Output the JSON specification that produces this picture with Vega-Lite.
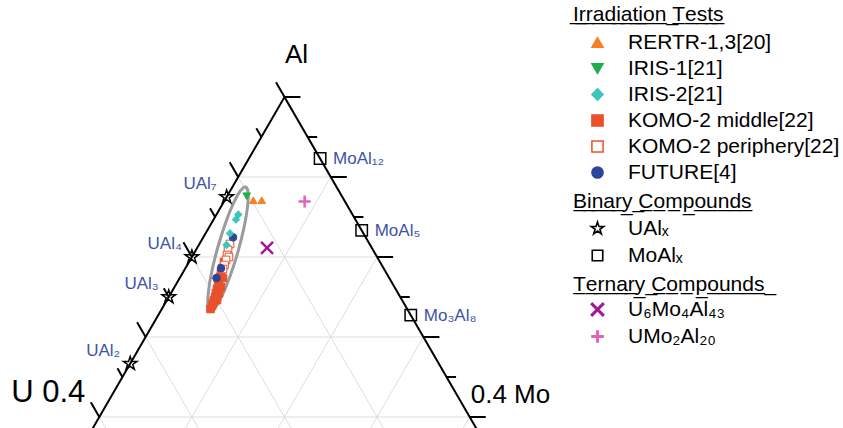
{
  "$schema": "https://vega.github.io/schema/vega-lite/v6.json",
  "width": 555,
  "height": 424,
  "padding": {"top": 4, "left": 0, "right": 0, "bottom": 0},
  "autosize": {"type": "pad"},
  "datasets": {
    "grid": [
      {"U1": 0.1, "Mo1": 0, "Al1": 0.9, "U2": 0, "Mo2": 0.1, "Al2": 0.9},
      {"U1": 0.2, "Mo1": 0, "Al1": 0.8, "U2": 0, "Mo2": 0.2, "Al2": 0.8},
      {"U1": 0.3, "Mo1": 0, "Al1": 0.7, "U2": 0, "Mo2": 0.3, "Al2": 0.7},
      {"U1": 0.4, "Mo1": 0, "Al1": 0.6, "U2": 0, "Mo2": 0.4, "Al2": 0.6},
      {"U1": 0, "Mo1": 0.1, "Al1": 0.9, "U2": 0.5, "Mo2": 0.1, "Al2": 0.4},
      {"U1": 0, "Mo1": 0.2, "Al1": 0.8, "U2": 0.4, "Mo2": 0.2, "Al2": 0.4},
      {"U1": 0, "Mo1": 0.3, "Al1": 0.7, "U2": 0.3, "Mo2": 0.3, "Al2": 0.4},
      {"U1": 0, "Mo1": 0.4, "Al1": 0.6, "U2": 0.2, "Mo2": 0.4, "Al2": 0.4},
      {"U1": 0.1, "Mo1": 0, "Al1": 0.9, "U2": 0.1, "Mo2": 0.5, "Al2": 0.4},
      {"U1": 0.2, "Mo1": 0, "Al1": 0.8, "U2": 0.2, "Mo2": 0.4, "Al2": 0.4},
      {"U1": 0.3, "Mo1": 0, "Al1": 0.7, "U2": 0.3, "Mo2": 0.3, "Al2": 0.4},
      {"U1": 0.4, "Mo1": 0, "Al1": 0.6, "U2": 0.4, "Mo2": 0.2, "Al2": 0.4}
    ],
    "edges": [
      {"U1": 0, "Mo1": 0, "Al1": 1, "U2": 0.6, "Mo2": 0, "Al2": 0.4},
      {"U1": 0, "Mo1": 0, "Al1": 1, "U2": 0, "Mo2": 0.6, "Al2": 0.4}
    ],
    "ticks": [
      {"side": "left", "kind": "major", "U": 0, "Mo": 0, "Al": 1},
      {"side": "left", "kind": "major", "U": 0.1, "Mo": 0, "Al": 0.9},
      {"side": "left", "kind": "major", "U": 0.2, "Mo": 0, "Al": 0.8},
      {"side": "left", "kind": "major", "U": 0.3, "Mo": 0, "Al": 0.7},
      {"side": "left", "kind": "major", "U": 0.4, "Mo": 0, "Al": 0.6},
      {"side": "left", "kind": "minor", "U": 0.05, "Mo": 0, "Al": 0.95},
      {"side": "left", "kind": "minor", "U": 0.15, "Mo": 0, "Al": 0.85},
      {"side": "left", "kind": "minor", "U": 0.25, "Mo": 0, "Al": 0.75},
      {"side": "left", "kind": "minor", "U": 0.35, "Mo": 0, "Al": 0.65},
      {"side": "right", "kind": "major", "U": 0, "Mo": 0, "Al": 1},
      {"side": "right", "kind": "major", "U": 0, "Mo": 0.1, "Al": 0.9},
      {"side": "right", "kind": "major", "U": 0, "Mo": 0.2, "Al": 0.8},
      {"side": "right", "kind": "major", "U": 0, "Mo": 0.3, "Al": 0.7},
      {"side": "right", "kind": "major", "U": 0, "Mo": 0.4, "Al": 0.6},
      {"side": "right", "kind": "minor", "U": 0, "Mo": 0.05, "Al": 0.95},
      {"side": "right", "kind": "minor", "U": 0, "Mo": 0.15, "Al": 0.85},
      {"side": "right", "kind": "minor", "U": 0, "Mo": 0.25, "Al": 0.75},
      {"side": "right", "kind": "minor", "U": 0, "Mo": 0.35, "Al": 0.65}
    ],
    "ellipse": [
      {"i": 0, "U": 0.0982, "Mo": 0.0143, "Al": 0.8875},
      {"i": 1, "U": 0.0992, "Mo": 0.0206, "Al": 0.8802},
      {"i": 2, "U": 0.1088, "Mo": 0.0289, "Al": 0.8623},
      {"i": 3, "U": 0.1256, "Mo": 0.038, "Al": 0.8364},
      {"i": 4, "U": 0.1471, "Mo": 0.0465, "Al": 0.8064},
      {"i": 5, "U": 0.1699, "Mo": 0.053, "Al": 0.7771},
      {"i": 6, "U": 0.1906, "Mo": 0.0567, "Al": 0.7527},
      {"i": 7, "U": 0.206, "Mo": 0.0569, "Al": 0.7371},
      {"i": 8, "U": 0.2139, "Mo": 0.0537, "Al": 0.7324},
      {"i": 9, "U": 0.2129, "Mo": 0.0474, "Al": 0.7397},
      {"i": 10, "U": 0.2032, "Mo": 0.0391, "Al": 0.7577},
      {"i": 11, "U": 0.1864, "Mo": 0.03, "Al": 0.7836},
      {"i": 12, "U": 0.165, "Mo": 0.0216, "Al": 0.8134},
      {"i": 13, "U": 0.1422, "Mo": 0.015, "Al": 0.8428},
      {"i": 14, "U": 0.1215, "Mo": 0.0113, "Al": 0.8672},
      {"i": 15, "U": 0.106, "Mo": 0.0111, "Al": 0.8829}
    ],
    "tests": [
      {"test": "KOMO-2 middle[22]", "U": 0.1685, "Mo": 0.0378, "Al": 0.7937},
      {"test": "KOMO-2 middle[22]", "U": 0.1744, "Mo": 0.0394, "Al": 0.7862},
      {"test": "KOMO-2 middle[22]", "U": 0.1786, "Mo": 0.0414, "Al": 0.78},
      {"test": "KOMO-2 middle[22]", "U": 0.1822, "Mo": 0.0429, "Al": 0.7749},
      {"test": "KOMO-2 middle[22]", "U": 0.1795, "Mo": 0.0467, "Al": 0.7738},
      {"test": "KOMO-2 middle[22]", "U": 0.1858, "Mo": 0.0443, "Al": 0.7699},
      {"test": "KOMO-2 middle[22]", "U": 0.1893, "Mo": 0.0457, "Al": 0.765},
      {"test": "KOMO-2 middle[22]", "U": 0.1929, "Mo": 0.0471, "Al": 0.76},
      {"test": "KOMO-2 middle[22]", "U": 0.1873, "Mo": 0.0502, "Al": 0.7625},
      {"test": "KOMO-2 middle[22]", "U": 0.1965, "Mo": 0.0485, "Al": 0.755},
      {"test": "KOMO-2 middle[22]", "U": 0.1933, "Mo": 0.0518, "Al": 0.7549},
      {"test": "KOMO-2 middle[22]", "U": 0.2, "Mo": 0.05, "Al": 0.75},
      {"test": "KOMO-2 middle[22]", "U": 0.203, "Mo": 0.0507, "Al": 0.7463},
      {"test": "KOMO-2 middle[22]", "U": 0.1998, "Mo": 0.054, "Al": 0.7462},
      {"test": "KOMO-2 middle[22]", "U": 0.206, "Mo": 0.0516, "Al": 0.7424},
      {"test": "KOMO-2 middle[22]", "U": 0.2089, "Mo": 0.0523, "Al": 0.7388},
      {"test": "KOMO-2 middle[22]", "U": 0.2124, "Mo": 0.0526, "Al": 0.735},
      {"test": "KOMO-2 periphery[22]", "U": 0.1507, "Mo": 0.033, "Al": 0.8163},
      {"test": "KOMO-2 periphery[22]", "U": 0.1566, "Mo": 0.0346, "Al": 0.8088},
      {"test": "KOMO-2 periphery[22]", "U": 0.1608, "Mo": 0.0367, "Al": 0.8025},
      {"test": "KOMO-2 periphery[22]", "U": 0.16, "Mo": 0.04, "Al": 0.8},
      {"test": "KOMO-2 periphery[22]", "U": 0.165, "Mo": 0.0387, "Al": 0.7963},
      {"test": "KOMO-2 periphery[22]", "U": 0.1698, "Mo": 0.0402, "Al": 0.79},
      {"test": "KOMO-2 periphery[22]", "U": 0.1739, "Mo": 0.0411, "Al": 0.785},
      {"test": "FUTURE[4]", "U": 0.1433, "Mo": 0.0321, "Al": 0.8246},
      {"test": "FUTURE[4]", "U": 0.1756, "Mo": 0.0385, "Al": 0.7859},
      {"test": "FUTURE[4]", "U": 0.1866, "Mo": 0.0397, "Al": 0.7737},
      {"test": "IRIS-2[21]", "U": 0.1234, "Mo": 0.0236, "Al": 0.853},
      {"test": "IRIS-2[21]", "U": 0.129, "Mo": 0.0242, "Al": 0.8468},
      {"test": "IRIS-2[21]", "U": 0.1441, "Mo": 0.0264, "Al": 0.8295},
      {"test": "IRIS-2[21]", "U": 0.1551, "Mo": 0.0299, "Al": 0.815},
      {"test": "RERTR-1,3[20]", "U": 0.0982, "Mo": 0.0308, "Al": 0.871},
      {"test": "RERTR-1,3[20]", "U": 0.0891, "Mo": 0.0399, "Al": 0.871},
      {"test": "IRIS-1[21]", "U": 0.1028, "Mo": 0.0212, "Al": 0.876}
    ],
    "binary": [
      {"family": "UAlₓ", "label": "UAl₇", "U": 0.125, "Mo": 0, "Al": 0.875},
      {"family": "UAlₓ", "label": "UAl₄", "U": 0.2, "Mo": 0, "Al": 0.8},
      {"family": "UAlₓ", "label": "UAl₃", "U": 0.25, "Mo": 0, "Al": 0.75},
      {"family": "UAlₓ", "label": "UAl₂", "U": 0.3333, "Mo": 0, "Al": 0.6667},
      {"family": "MoAlₓ", "label": "MoAl₁₂", "U": 0, "Mo": 0.0769, "Al": 0.9231},
      {"family": "MoAlₓ", "label": "MoAl₅", "U": 0, "Mo": 0.1667, "Al": 0.8333},
      {"family": "MoAlₓ", "label": "Mo₃Al₈", "U": 0, "Mo": 0.2727, "Al": 0.7273}
    ],
    "ternary": [
      {"compound": "U₆Mo₄Al₄₃", "U": 0.1132, "Mo": 0.0755, "Al": 0.8113},
      {"compound": "UMo₂Al₂₀", "U": 0.0435, "Mo": 0.087, "Al": 0.8695}
    ],
    "corners": [
      {"name": "top", "label": "Al", "U": 0, "Mo": 0, "Al": 1},
      {"name": "left", "label": "U 0.4", "U": 0.4, "Mo": 0, "Al": 0.6},
      {"name": "right", "label": "0.4 Mo", "U": 0, "Mo": 0.4, "Al": 0.6}
    ]
  },
  "layer": [
    {
      "data": {"name": "grid"},
      "transform": [
        {"calculate": "datum.Mo1 - datum.U1", "as": "xa"},
        {"calculate": "datum.Mo2 - datum.U2", "as": "xb"}
      ],
      "mark": {"type": "rule", "stroke": "#d4d4d4", "strokeWidth": 0.8, "clip": true},
      "encoding": {
        "x": {"field": "xa", "type": "quantitative", "scale": {"domain": [-0.61447, 0.58423], "nice": false, "zero": false}, "axis": null},
        "y": {"field": "Al1", "type": "quantitative", "scale": {"domain": [0.58625, 1.11625], "nice": false, "zero": false}, "axis": null},
        "x2": {"field": "xb"},
        "y2": {"field": "Al2"}
      }
    },
    {
      "data": {"name": "edges"},
      "transform": [
        {"calculate": "datum.Mo1 - datum.U1", "as": "xa"},
        {"calculate": "datum.Mo2 - datum.U2", "as": "xb"}
      ],
      "mark": {"type": "rule", "stroke": "black", "strokeWidth": 2, "strokeCap": "square", "clip": true},
      "encoding": {
        "x": {"field": "xa", "type": "quantitative", "scale": {"domain": [-0.61447, 0.58423], "nice": false, "zero": false}, "axis": null},
        "y": {"field": "Al1", "type": "quantitative", "scale": {"domain": [0.58625, 1.11625], "nice": false, "zero": false}, "axis": null},
        "x2": {"field": "xb"},
        "y2": {"field": "Al2"}
      }
    },
    {
      "data": {"name": "ticks"},
      "transform": [
        {"filter": "datum.side == 'left' && datum.kind == 'major'"},
        {"calculate": "datum.Mo - datum.U", "as": "x"}
      ],
      "mark": {"type": "point", "shape": "M0,0L-0.577,-1", "size": 866, "filled": false, "stroke": "black", "strokeWidth": 2, "opacity": 1, "clip": true},
      "encoding": {
        "x": {"field": "x", "type": "quantitative", "scale": {"domain": [-0.61447, 0.58423], "nice": false, "zero": false}, "axis": null},
        "y": {"field": "Al", "type": "quantitative", "scale": {"domain": [0.58625, 1.11625], "nice": false, "zero": false}, "axis": null}
      }
    },
    {
      "data": {"name": "ticks"},
      "transform": [
        {"filter": "datum.side == 'left' && datum.kind == 'minor'"},
        {"calculate": "datum.Mo - datum.U", "as": "x"}
      ],
      "mark": {"type": "point", "shape": "M0,0L-0.577,-1", "size": 300, "filled": false, "stroke": "black", "strokeWidth": 2, "opacity": 1, "clip": true},
      "encoding": {
        "x": {"field": "x", "type": "quantitative", "scale": {"domain": [-0.61447, 0.58423], "nice": false, "zero": false}, "axis": null},
        "y": {"field": "Al", "type": "quantitative", "scale": {"domain": [0.58625, 1.11625], "nice": false, "zero": false}, "axis": null}
      }
    },
    {
      "data": {"name": "ticks"},
      "transform": [
        {"filter": "datum.side == 'right' && datum.kind == 'major'"},
        {"calculate": "datum.Mo - datum.U", "as": "x"}
      ],
      "mark": {"type": "point", "shape": "M0,0L1,0", "size": 1024, "filled": false, "stroke": "black", "strokeWidth": 2, "opacity": 1, "clip": true},
      "encoding": {
        "x": {"field": "x", "type": "quantitative", "scale": {"domain": [-0.61447, 0.58423], "nice": false, "zero": false}, "axis": null},
        "y": {"field": "Al", "type": "quantitative", "scale": {"domain": [0.58625, 1.11625], "nice": false, "zero": false}, "axis": null}
      }
    },
    {
      "data": {"name": "ticks"},
      "transform": [
        {"filter": "datum.side == 'right' && datum.kind == 'minor'"},
        {"calculate": "datum.Mo - datum.U", "as": "x"}
      ],
      "mark": {"type": "point", "shape": "M0,0L1,0", "size": 361, "filled": false, "stroke": "black", "strokeWidth": 2, "opacity": 1, "clip": true},
      "encoding": {
        "x": {"field": "x", "type": "quantitative", "scale": {"domain": [-0.61447, 0.58423], "nice": false, "zero": false}, "axis": null},
        "y": {"field": "Al", "type": "quantitative", "scale": {"domain": [0.58625, 1.11625], "nice": false, "zero": false}, "axis": null}
      }
    },
    {
      "data": {"name": "ellipse"},
      "transform": [{"calculate": "datum.Mo - datum.U", "as": "x"}],
      "mark": {"type": "line", "interpolate": "cardinal-closed", "stroke": "#9b9b9b", "strokeWidth": 3},
      "encoding": {
        "x": {"field": "x", "type": "quantitative", "scale": {"domain": [-0.61447, 0.58423], "nice": false, "zero": false}, "axis": null},
        "y": {"field": "Al", "type": "quantitative", "scale": {"domain": [0.58625, 1.11625], "nice": false, "zero": false}, "axis": null},
        "order": {"field": "i", "type": "quantitative"}
      }
    },
    {
      "data": {"name": "tests"},
      "transform": [{"calculate": "datum.Mo - datum.U", "as": "x"}],
      "mark": {"type": "point", "filled": true, "size": 58, "strokeWidth": 1, "opacity": 1},
      "encoding": {
        "x": {"field": "x", "type": "quantitative", "scale": {"domain": [-0.61447, 0.58423], "nice": false, "zero": false}, "axis": null},
        "y": {"field": "Al", "type": "quantitative", "scale": {"domain": [0.58625, 1.11625], "nice": false, "zero": false}, "axis": null},
        "shape": {"field": "test", "type": "nominal",
          "scale": {"domain": ["RERTR-1,3[20]", "IRIS-1[21]", "IRIS-2[21]", "KOMO-2 middle[22]", "KOMO-2 periphery[22]", "FUTURE[4]"],
                    "range": ["triangle-up", "triangle-down", "diamond", "square", "square", "circle"]},
          "legend": {"title": "I\u0332r\u0332r\u0332a\u0332d\u0332i\u0332a\u0332t\u0332i\u0332o\u0332n\u0332 \u0332T\u0332e\u0332s\u0332t\u0332s\u0332", "symbolSize": 125, "rowPadding": 4, "titlePadding": 7}},
        "fill": {"field": "test", "type": "nominal",
          "scale": {"domain": ["RERTR-1,3[20]", "IRIS-1[21]", "IRIS-2[21]", "KOMO-2 middle[22]", "KOMO-2 periphery[22]", "FUTURE[4]"],
                    "range": ["#f5821f", "#1fae4b", "#3cc6bb", "#e9512a", "#ffffff", "#2c4599"]},
          "legend": {"title": "I\u0332r\u0332r\u0332a\u0332d\u0332i\u0332a\u0332t\u0332i\u0332o\u0332n\u0332 \u0332T\u0332e\u0332s\u0332t\u0332s\u0332", "symbolSize": 125, "rowPadding": 4, "titlePadding": 7}},
        "stroke": {"field": "test", "type": "nominal",
          "scale": {"domain": ["RERTR-1,3[20]", "IRIS-1[21]", "IRIS-2[21]", "KOMO-2 middle[22]", "KOMO-2 periphery[22]", "FUTURE[4]"],
                    "range": ["#f5821f", "#1fae4b", "#3cc6bb", "#e9512a", "#e9512a", "#2c4599"]},
          "legend": {"title": "I\u0332r\u0332r\u0332a\u0332d\u0332i\u0332a\u0332t\u0332i\u0332o\u0332n\u0332 \u0332T\u0332e\u0332s\u0332t\u0332s\u0332", "symbolSize": 125, "rowPadding": 4, "titlePadding": 7}}
      }
    },
    {
      "data": {"name": "binary"},
      "transform": [{"calculate": "datum.Mo - datum.U", "as": "x"}],
      "mark": {"type": "point", "filled": false, "stroke": "black", "color": "black", "size": 130, "strokeWidth": 1.5, "opacity": 1},
      "encoding": {
        "x": {"field": "x", "type": "quantitative", "scale": {"domain": [-0.61447, 0.58423], "nice": false, "zero": false}, "axis": null},
        "y": {"field": "Al", "type": "quantitative", "scale": {"domain": [0.58625, 1.11625], "nice": false, "zero": false}, "axis": null},
        "shape": {"field": "family", "type": "nominal",
          "scale": {"domain": ["UAlₓ", "MoAlₓ"],
                    "range": ["M0,-1.25L0.281,-0.386L1.189,-0.386L0.454,0.148L0.735,1.011L0,0.478L-0.735,1.011L-0.454,0.148L-1.189,-0.386L-0.281,-0.386Z", "square"]},
          "legend": {"title": "B\u0332i\u0332n\u0332a\u0332r\u0332y\u0332 \u0332C\u0332o\u0332m\u0332p\u0332o\u0332u\u0332n\u0332d\u0332s\u0332", "symbolSize": 110, "symbolStrokeColor": "black", "symbolFillColor": "transparent", "symbolStrokeWidth": 1.6, "rowPadding": 5, "titlePadding": 6}}
      }
    },
    {
      "data": {"name": "ternary"},
      "transform": [{"calculate": "datum.Mo - datum.U", "as": "x"}],
      "mark": {"type": "point", "filled": false, "size": 144, "strokeWidth": 2.5, "opacity": 1},
      "encoding": {
        "x": {"field": "x", "type": "quantitative", "scale": {"domain": [-0.61447, 0.58423], "nice": false, "zero": false}, "axis": null},
        "y": {"field": "Al", "type": "quantitative", "scale": {"domain": [0.58625, 1.11625], "nice": false, "zero": false}, "axis": null},
        "shape": {"field": "compound", "type": "nominal",
          "scale": {"domain": ["U₆Mo₄Al₄₃", "UMo₂Al₂₀"], "range": ["M-1,-1L1,1M1,-1L-1,1", "M-1,0L1,0M0,-1L0,1"]},
          "legend": {"title": "T\u0332e\u0332r\u0332n\u0332a\u0332r\u0332y\u0332 \u0332C\u0332o\u0332m\u0332p\u0332o\u0332u\u0332n\u0332d\u0332s\u0332 \u0332", "symbolSize": 160, "symbolStrokeWidth": 3, "rowPadding": 2, "titlePadding": 4}},
        "color": {"field": "compound", "type": "nominal",
          "scale": {"domain": ["U₆Mo₄Al₄₃", "UMo₂Al₂₀"], "range": ["#a3198f", "#e065b4"]},
          "legend": {"title": "T\u0332e\u0332r\u0332n\u0332a\u0332r\u0332y\u0332 \u0332C\u0332o\u0332m\u0332p\u0332o\u0332u\u0332n\u0332d\u0332s\u0332 \u0332", "symbolSize": 160, "symbolStrokeWidth": 3, "rowPadding": 2, "titlePadding": 4}}
      }
    },
    {
      "data": {"name": "binary"},
      "transform": [{"filter": "datum.family == 'UAlₓ'"}, {"calculate": "datum.Mo - datum.U", "as": "x"}],
      "mark": {"type": "text", "align": "right", "baseline": "alphabetic", "dx": -10, "dy": -8, "fontSize": 17, "color": "#3d52a8"},
      "encoding": {
        "x": {"field": "x", "type": "quantitative", "scale": {"domain": [-0.61447, 0.58423], "nice": false, "zero": false}, "axis": null},
        "y": {"field": "Al", "type": "quantitative", "scale": {"domain": [0.58625, 1.11625], "nice": false, "zero": false}, "axis": null},
        "text": {"field": "label"}
      }
    },
    {
      "data": {"name": "binary"},
      "transform": [{"filter": "datum.family == 'MoAlₓ'"}, {"calculate": "datum.Mo - datum.U", "as": "x"}],
      "mark": {"type": "text", "align": "left", "baseline": "alphabetic", "dx": 13, "dy": 5.5, "fontSize": 17, "color": "#3d52a8"},
      "encoding": {
        "x": {"field": "x", "type": "quantitative", "scale": {"domain": [-0.61447, 0.58423], "nice": false, "zero": false}, "axis": null},
        "y": {"field": "Al", "type": "quantitative", "scale": {"domain": [0.58625, 1.11625], "nice": false, "zero": false}, "axis": null},
        "text": {"field": "label"}
      }
    },
    {
      "data": {"name": "corners"},
      "transform": [{"filter": "datum.name == 'top'"}, {"calculate": "datum.Mo - datum.U", "as": "x"}],
      "mark": {"type": "text", "align": "center", "baseline": "alphabetic", "dx": 12, "dy": -34, "fontSize": 26, "color": "black"},
      "encoding": {
        "x": {"field": "x", "type": "quantitative", "scale": {"domain": [-0.61447, 0.58423], "nice": false, "zero": false}, "axis": null},
        "y": {"field": "Al", "type": "quantitative", "scale": {"domain": [0.58625, 1.11625], "nice": false, "zero": false}, "axis": null},
        "text": {"field": "label"}
      }
    },
    {
      "data": {"name": "corners"},
      "transform": [{"filter": "datum.name == 'left'"}, {"calculate": "datum.Mo - datum.U", "as": "x"}],
      "mark": {"type": "text", "align": "right", "baseline": "alphabetic", "dx": -14, "dy": -15, "fontSize": 31, "color": "black"},
      "encoding": {
        "x": {"field": "x", "type": "quantitative", "scale": {"domain": [-0.61447, 0.58423], "nice": false, "zero": false}, "axis": null},
        "y": {"field": "Al", "type": "quantitative", "scale": {"domain": [0.58625, 1.11625], "nice": false, "zero": false}, "axis": null},
        "text": {"field": "label"}
      }
    },
    {
      "data": {"name": "corners"},
      "transform": [{"filter": "datum.name == 'right'"}, {"calculate": "datum.Mo - datum.U", "as": "x"}],
      "mark": {"type": "text", "align": "left", "baseline": "alphabetic", "dx": 1, "dy": -14, "fontSize": 26, "color": "black"},
      "encoding": {
        "x": {"field": "x", "type": "quantitative", "scale": {"domain": [-0.61447, 0.58423], "nice": false, "zero": false}, "axis": null},
        "y": {"field": "Al", "type": "quantitative", "scale": {"domain": [0.58625, 1.11625], "nice": false, "zero": false}, "axis": null},
        "text": {"field": "label"}
      }
    }
  ],
  "resolve": {"scale": {"shape": "independent", "fill": "independent", "stroke": "independent", "color": "independent"}},
  "config": {
    "view": {"stroke": null},
    "font": "Liberation Sans",
    "legend": {
      "orient": "right",
      "offset": 18,
      "padding": 0,
      "titleFontSize": 21,
      "titleFontWeight": "normal",
      "titleColor": "black",
      "titleFont": "Liberation Sans",
      "titlePadding": 7,
      "titleLimit": 400,
      "labelFontSize": 21,
      "labelColor": "black",
      "labelFont": "Liberation Sans",
      "labelLimit": 400,
      "labelOffset": 20,
      "rowPadding": 4,
      "symbolOffset": 14
    }
  }
}
